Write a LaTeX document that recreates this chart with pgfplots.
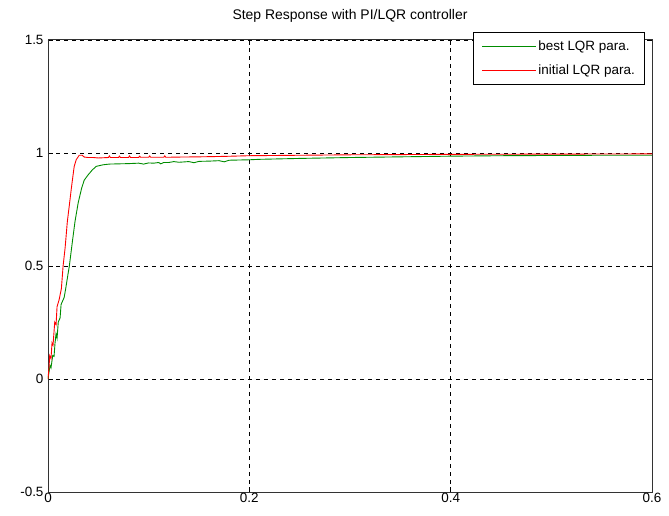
\documentclass[border=0pt]{standalone}
\usepackage{pgfplots}
\pgfplotsset{compat=1.18}
\usepackage{fontspec}
\setmainfont{Liberation Sans}
\definecolor{mgreen}{RGB}{0,140,0}
\begin{document}
\begin{tikzpicture}
\begin{axis}[name=ax,
  scale only axis, width=604bp, height=452bp,
  xmin=0, xmax=0.6, ymin=-0.5, ymax=1.5,
  xtick={0,0.2,0.4,0.6}, ytick={-0.5,0,0.5,1,1.5},
  xticklabels={0,0.2,0.4,0.6}, yticklabels={-0.5,0,0.5,1,1.5},
  tick align=inside, major tick length=5bp,
  tick style={black, line width=0.6pt},
  axis line style={black!80, line width=1pt},
  grid=major, major grid style={black, dashed, line width=0.6pt, dash pattern=on 4bp off 4bp},
  tick label style={font=\fontsize{13.5}{14}\selectfont},
  yticklabel style={xshift=-1bp},
  xticklabel style={yshift=2bp},
  title={Step Response with PI/LQR controller},
  title style={font=\fontsize{14}{15}\selectfont, at={(0.5,1)}, anchor=base, yshift=15bp},
  legend style={at={(0.704,1.018)}, anchor=north west, font=\fontsize{13.5}{14}\selectfont,
    draw=black, line width=0.8pt, inner xsep=8bp, inner ysep=7bp, row sep=8bp},
  legend cell align=left,
  legend image code/.code={\draw[mark repeat=2,mark phase=2,#1] plot coordinates {(0cm,0cm) (0.95cm,0cm) (1.9cm,0cm)};},
  clip=true,
]
\addplot[color=mgreen, line width=0.9pt] coordinates {
(0,0) (0.001,0.03) (0.002,0.06) (0.003,0.05) (0.0047,0.104) (0.006,0.10) (0.007,0.16)
(0.008,0.20) (0.009,0.18) (0.0102,0.252) (0.012,0.27) (0.013,0.33) (0.014,0.34)
(0.016,0.36) (0.0176,0.40) (0.019,0.44) (0.0212,0.5) (0.024,0.6) (0.0268,0.696)
(0.030,0.78) (0.0334,0.844) (0.036,0.88) (0.040,0.904) (0.044,0.925) (0.048,0.941)
(0.055,0.948) (0.061,0.951) (0.07,0.952) (0.08,0.953) (0.09,0.955) (0.095,0.951)
(0.1,0.956) (0.105,0.955) (0.11,0.958) (0.112,0.952) (0.115,0.958) (0.12,0.958)
(0.125,0.962) (0.13,0.959) (0.14,0.962) (0.145,0.957) (0.15,0.963) (0.16,0.964)
(0.17,0.966) (0.175,0.961) (0.18,0.968) (0.19,0.969) (0.2,0.97) (0.21,0.972)
(0.22,0.973) (0.25,0.976) (0.3,0.98) (0.35,0.983) (0.4,0.986) (0.45,0.988)
(0.5,0.989) (0.55,0.99) (0.6,0.99)
};
\addlegendentry{best LQR para.}
\addplot[color=red, line width=0.9pt] coordinates {
(0,0) (0.001,0.05) (0.0017,0.104) (0.003,0.09) (0.004,0.16) (0.005,0.15)
(0.0067,0.252) (0.008,0.24) (0.009,0.32) (0.011,0.35) (0.0133,0.40) (0.015,0.5)
(0.017,0.58) (0.0192,0.696) (0.0215,0.78) (0.0232,0.844) (0.026,0.94) (0.028,0.97)
(0.031,0.99) (0.034,0.99) (0.036,0.982) (0.04,0.98) (0.045,0.98) (0.05,0.978)
(0.055,0.979) (0.06,0.98) (0.061,0.987) (0.062,0.98) (0.07,0.98) (0.071,0.986)
(0.072,0.98) (0.08,0.98) (0.081,0.987) (0.082,0.98) (0.09,0.98) (0.091,0.986)
(0.092,0.981) (0.1,0.981) (0.101,0.987) (0.102,0.981) (0.115,0.981) (0.116,0.987)
(0.117,0.981) (0.13,0.982) (0.15,0.983) (0.175,0.985) (0.2,0.988) (0.25,0.99)
(0.3,0.992) (0.4,0.994) (0.5,0.995) (0.6,0.996)
};
\addlegendentry{initial LQR para.}
\end{axis}
\pgfresetboundingbox
\path[use as bounding box] ([xshift=-48bp,yshift=-24bp]ax.south west) rectangle ([xshift=17bp,yshift=40bp]ax.north east);
\end{tikzpicture}
\end{document}
